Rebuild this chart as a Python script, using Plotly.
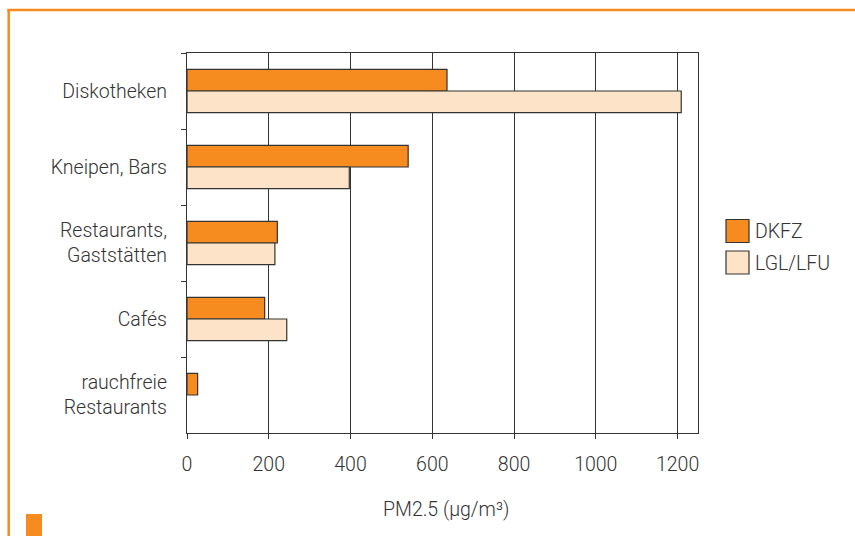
import plotly.graph_objects as go

# PM2.5 concentrations by venue type
categories = ["Diskotheken", "Kneipen, Bars", "Restaurants,<br>Gaststätten", "Cafés",
              "rauchfreie<br>Restaurants"]
dkfz = [636, 541, 221, 190, 26]
lgl_lfu = [1209, 397, 215, 244, None]
x_ticks = [0, 200, 400, 600, 800, 1000, 1200]

ORANGE = "#F68B1F"
PEACH = "#FDE4C9"
INK = "#333333"
W, H = 855, 536
L, R, T, B = 187, 157, 53, 103
PW, PH = W - L - R, H - T - B


def px(x):
    return (x - L) / PW


def py(y):
    return 1 - (y - T) / PH


font = dict(family="Roboto", size=19.5, color=INK, weight=300)

fig = go.Figure()
fig.add_trace(go.Bar(y=categories, x=dkfz, orientation="h", name="DKFZ",
                     marker=dict(color=ORANGE, line=dict(color=INK, width=1.2))))
fig.add_trace(go.Bar(y=categories, x=lgl_lfu, orientation="h", name="LGL/LFU",
                     marker=dict(color=PEACH, line=dict(color=INK, width=1.2))))

fig.update_layout(
    width=W, height=H, margin=dict(l=L, r=R, t=T, b=B),
    paper_bgcolor="white", plot_bgcolor="white",
    barmode="group", bargap=0.43, bargroupgap=0,
    showlegend=False, font=font,
    xaxis=dict(range=[0, 1250], tickvals=x_ticks, showgrid=True, gridcolor=INK, gridwidth=1.2,
               showline=True, linecolor=INK, linewidth=1.2, mirror=True,
               ticks="outside", ticklen=5, tickcolor=INK, tickwidth=1.2,
               ticklabelstandoff=8, zeroline=False, tickfont=font),
    yaxis=dict(autorange="reversed", showgrid=False, showline=True, linecolor=INK, linewidth=1.2,
               mirror=True, ticks="outside", ticklen=5, tickcolor=INK, tickwidth=1.2,
               tickson="boundaries", ticklabelstandoff=15, tickfont=font),
)

# axis title
fig.add_annotation(x=px(446), y=py(509), xref="paper", yref="paper", text="PM2.5 (µg/m³)",
                   showarrow=False, font=font, xanchor="center", yanchor="middle")

# legend drawn as boxes with labels
for i, (name, color) in enumerate([("DKFZ", ORANGE), ("LGL/LFU", PEACH)]):
    y0 = 219.5 + i * 31.5
    fig.add_shape(type="rect", xref="paper", yref="paper",
                  x0=px(726), x1=px(749), y0=py(y0), y1=py(y0 + 23),
                  fillcolor=color, line=dict(color=INK, width=1.2))
    fig.add_annotation(x=px(753), y=py(y0 + 12), xref="paper", yref="paper", text=name,
                       showarrow=False, font=font, xanchor="left", yanchor="middle")

# orange page frame and corner marker
fig.add_shape(type="line", xref="paper", yref="paper", x0=px(7.5), x1=px(W), y0=py(10), y1=py(10),
              line=dict(color=ORANGE, width=2.5))
fig.add_shape(type="line", xref="paper", yref="paper", x0=px(8.7), x1=px(8.7), y0=py(9), y1=py(H),
              line=dict(color=ORANGE, width=2.5))
fig.add_shape(type="rect", xref="paper", yref="paper", x0=px(26), x1=px(42), y0=py(514), y1=py(H + 2),
              fillcolor=ORANGE, line=dict(width=0))

fig.write_html("out.html")
